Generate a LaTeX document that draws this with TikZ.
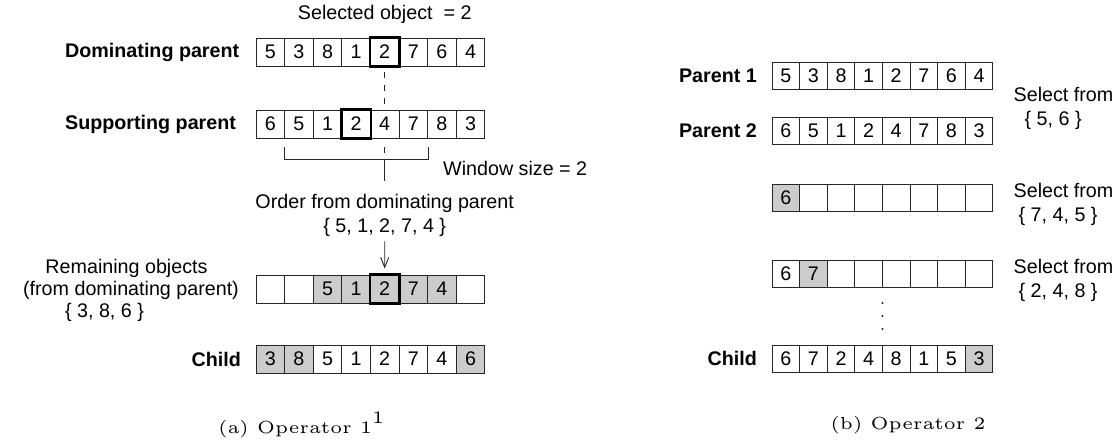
\documentclass[tikz,border=0pt]{standalone}
\usepackage{fontspec}
\setmainfont{Liberation Sans}
\usetikzlibrary{arrows.meta,calc}
\begin{document}
\begin{tikzpicture}[x=1pt,y=-1pt,
  txt/.style={font=\fontsize{19.7}{24}\selectfont, inner sep=0pt},
  lbl/.style={inner sep=0pt, font=\fontsize{19.7}{24}\selectfont\bfseries},
  cellL/.style={draw=black!85, line width=0.9pt, minimum width=28.6pt,
    minimum height=28pt, inner sep=0pt, font=\fontsize{19.7}{24}\selectfont},
  cellR/.style={cellL, minimum width=27.6pt, minimum height=27pt},
  wht/.style={},
  shaded/.style={fill=black!20},
  selbox/.style={draw=black, line width=2.6pt},
  guide/.style={draw=black!85, line width=0.9pt},
  dashguide/.style={guide, dash pattern=on 6pt off 7pt},
  arr/.style={guide, -{Straight Barb[length=10pt,width=8pt]}},
  captxt/.style={scale=3.5, inner sep=0pt}
]
\useasboundingbox (0,0) rectangle (1117,444);

% ---------------- (a) Operator 1 ----------------
\node[txt] (selected) at (384.7,14) {Selected object~ = 2};

\node[lbl, anchor=west] (domlbl) at (65,52) {Dominating parent};
\foreach \v [count=\i from 0] in {5,3,8,1,2,7,6,4}
  \node[cellL] (dom\i) at (270.3+28.6*\i,52) {\v};

\node[lbl, anchor=west] (suplbl) at (65,124) {Supporting parent};
\foreach \v [count=\i from 0] in {6,5,1,2,4,7,8,3}
  \node[cellL] (sup\i) at (270.3+28.6*\i,124) {\v};

% window bracket around the selected object in the supporting parent
\coordinate (brL)  at ($(sup1.south west)+(0,9)$);
\coordinate (brLb) at ($(sup1.south west)+(0,21)$);
\coordinate (brR)  at ($(sup5.south east)+(0,9)$);
\coordinate (brRb) at ($(sup5.south east)+(0,21)$);
\coordinate (brmid) at ($(sup4.south)+(0,21)$);
\coordinate (brdown) at ($(sup4.south)+(0,43)$);
\draw[guide] (brL) -- (brLb) -- (brRb) -- (brR);
\draw[dashguide, shorten <=6pt, shorten >=6pt] (dom4.south) -- (sup4.north);
\draw[dashguide, shorten <=9pt, shorten >=6pt] (sup4.south) -- (brmid);
\draw[guide] (brmid) -- (brdown);
\node[txt, anchor=west] (window) at (443,168) {Window size = 2};

\node[txt, align=center] (order) at (384.7,215)
  {Order from dominating parent\\\{ 5, 1, 2, 7, 4 \}};

\foreach \v/\s [count=\i from 0] in {{}/wht,{}/wht,5/shaded,1/shaded,2/shaded,7/shaded,4/shaded,{}/wht}
  \node[cellL,\s] (rem\i) at (270.3+28.6*\i,289) {\v};

\draw[arr, shorten <=5pt, shorten >=6pt] (order.south) -- (rem4.north);

\node[txt] (remA) at (126.5,268) {Remaining objects};
\node[txt] (remB) at (131,290) {(from dominating parent)};
\node[txt] (remC) at (104.5,312) {\{ 3, 8, 6 \}};

\node[lbl, anchor=east] (childAlbl) at (241,359) {Child};
\foreach \v/\s [count=\i from 0] in {3/shaded,8/shaded,5/wht,1/wht,2/wht,7/wht,4/wht,6/shaded}
  \node[cellL,\s] (chA\i) at (270.3+28.6*\i,359) {\v};

% selected objects
\draw[selbox] (dom4.north west) rectangle (dom4.south east);
\draw[selbox] (sup3.north west) rectangle (sup3.south east);
\draw[selbox] (rem4.north west) rectangle (rem4.south east);

\node[captxt] (capA) at (301,425)
  {\fontsize{5}{6}\usefont{OT1}{cmr}{m}{n}(a) Operator 1\raisebox{2.6pt}{\fontsize{3.6}{4}\selectfont 1}};

% ---------------- (b) Operator 2 ----------------
\node[lbl, anchor=east] (p1lbl) at (757,75.5) {Parent 1};
\foreach \v [count=\i from 0] in {5,3,8,1,2,7,6,4}
  \node[cellR] (pa\i) at (785.8+27.6*\i,75.5) {\v};

\node[lbl, anchor=east] (p2lbl) at (757,130.5) {Parent 2};
\foreach \v [count=\i from 0] in {6,5,1,2,4,7,8,3}
  \node[cellR] (pb\i) at (785.8+27.6*\i,130.5) {\v};

\node[txt, align=left, anchor=west] (sel1) at (1013.5,108)
  {Select from\\\hspace*{11pt}\{ 5, 6 \}};

\foreach \v/\s [count=\i from 0] in {6/shaded,{}/wht,{}/wht,{}/wht,{}/wht,{}/wht,{}/wht,{}/wht}
  \node[cellR,\s] (sa\i) at (785.8+27.6*\i,197.5) {\v};
\node[txt, align=left, anchor=west] (sel2) at (1013.5,204)
  {Select from\\\hspace*{5pt}\{ 7, 4, 5 \}};

\foreach \v/\s [count=\i from 0] in {6/wht,7/shaded,{}/wht,{}/wht,{}/wht,{}/wht,{}/wht,{}/wht}
  \node[cellR,\s] (sb\i) at (785.8+27.6*\i,273.5) {\v};
\node[txt, align=left, anchor=west] (sel3) at (1013.5,280)
  {Select from\\\hspace*{5pt}\{ 2, 4, 8 \}};

% continuation dots
\foreach \yy in {303,316,329}
  \fill[black!85] (882.4,\yy) circle (1.1pt);

\node[lbl, anchor=east] (childBlbl) at (757,358.5) {Child};
\foreach \v/\s [count=\i from 0] in {6/wht,7/wht,2/wht,4/wht,8/wht,1/wht,5/wht,3/shaded}
  \node[cellR,\s] (chB\i) at (785.8+27.6*\i,358.5) {\v};

\node[captxt] (capB) at (908,425)
  {\fontsize{5}{6}\usefont{OT1}{cmr}{m}{n}(b) Operator 2};
\end{tikzpicture}
\end{document}
